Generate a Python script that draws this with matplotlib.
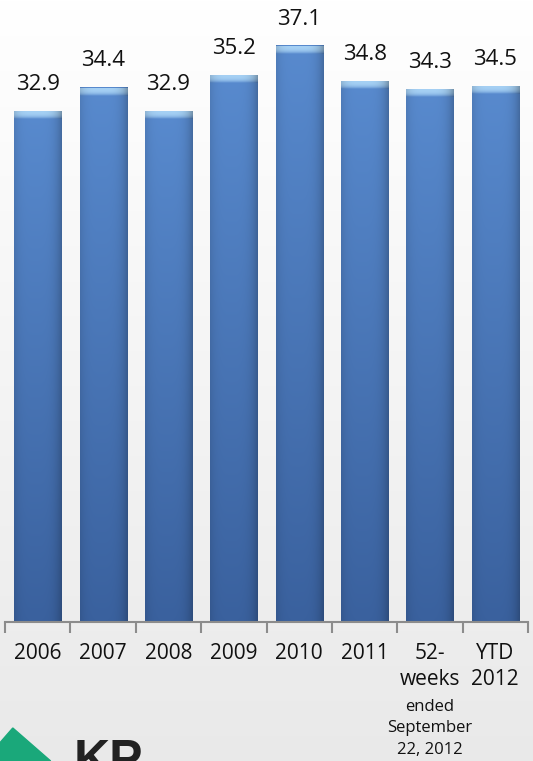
import numpy as np
import matplotlib
matplotlib.use("Agg")
import matplotlib.pyplot as plt
from matplotlib.patches import Polygon

plt.rcParams["font.family"] = ["Open Sans", "DejaVu Sans"]

categories = ["2006", "2007", "2008", "2009", "2010", "2011", "52-\nweeks", "YTD\n2012"]
values = [32.9, 34.4, 32.9, 35.2, 37.1, 34.8, 34.3, 34.5]
value_labels = ["32.9", "34.4", "32.9", "35.2", "37.1", "34.8", "34.3", "34.5"]
footnote = "ended\nSeptember\n22, 2012"

W, H = 533, 761
fig = plt.figure(figsize=(W / 100, H / 100), dpi=100)

# background gradient (white at top to light grey at bottom)
bg = fig.add_axes([0, 0, 1, 1], zorder=0)
grad = np.linspace(1.0, 0.915, 256).reshape(-1, 1)
bg.imshow(np.dstack([grad, grad, grad]), aspect="auto", extent=[0, 1, 0, 1])
bg.set_axis_off()

# logo fragment at bottom left (cut off by the page edge, as in the source)
bg.add_patch(Polygon([[-0.03, 0], [0.024, 1 - 728 / H], [0.095, 0]],
                     closed=True, color="#1aa87a", zorder=2))
bg.text(74 / W, -24 / H, "KP", fontsize=36, fontweight="bold", color="#222222",
        va="bottom", ha="left", family=["Liberation Sans", "DejaVu Sans"])
bg.set_xlim(0, 1)
bg.set_ylim(0, 1)

ax = fig.add_axes([5 / W, (H - 622) / H, 523 / W, 622 / H], zorder=1)
ax.patch.set_alpha(0)
n = len(values)
ax.set_xlim(-0.5, n - 0.5)
ax.set_ylim(0, 40.05)

bw = 0.72
# bar body colour field: vertical gradient + darker edges
ny, nx = 200, 60
yy = np.linspace(1, 0, ny).reshape(-1, 1)
xx = np.linspace(0, 1, nx).reshape(1, -1)
top = np.array([88, 138, 206]) / 255
bot = np.array([58, 97, 158]) / 255
body = bot + (top - bot) * yy[..., None]
edge = 1 - 0.22 * (np.abs(xx - 0.45) / 0.55) ** 4
body = np.clip(body * edge[..., None], 0, 1)

# highlight cap: light band fading into the bar colour
cy = np.linspace(0, 1, 20).reshape(-1, 1)   # 0 = top of cap
hi = np.array([165, 208, 244]) / 255
cap_rgb = hi + (top - hi) * cy[..., None] ** 3
cap_rgb = np.repeat(cap_rgb, nx, axis=1)
cap_edge = 1 - 0.3 * (np.abs(xx - 0.45) / 0.55) ** 4
cap_rgb = np.clip(cap_rgb * cap_edge[..., None], 0, 1)

for i, v in enumerate(values):
    x0 = i - bw / 2
    ax.imshow(body, aspect="auto", extent=[x0, x0 + bw, 0, v], zorder=2,
              interpolation="bilinear")
    ax.imshow(cap_rgb, aspect="auto", extent=[x0, x0 + bw, v - 0.5, v],
              zorder=3, interpolation="bilinear")
    ax.text(i, v + 1.05, value_labels[i], ha="center", va="bottom",
            fontsize=16, color="#111111")

ax.set_xticks(np.arange(-0.5, n, 1.0))
ax.set_xticklabels([])
ax.tick_params(axis="x", length=8, width=1.5, color="#8c8c8c", direction="out")
ax.set_yticks([])
for s in ["top", "right", "left"]:
    ax.spines[s].set_visible(False)
ax.spines["bottom"].set_color("#8c8c8c")
ax.spines["bottom"].set_linewidth(1.5)

for i, c in enumerate(categories):
    ax.text(i, -1.35, c, ha="center", va="top", fontsize=15,
            color="#111111", linespacing=1.3)
ax.text(6, -4.95, footnote, ha="center", va="top", fontsize=12,
        color="#111111", linespacing=1.45)

fig.savefig("out.png", dpi=100)
